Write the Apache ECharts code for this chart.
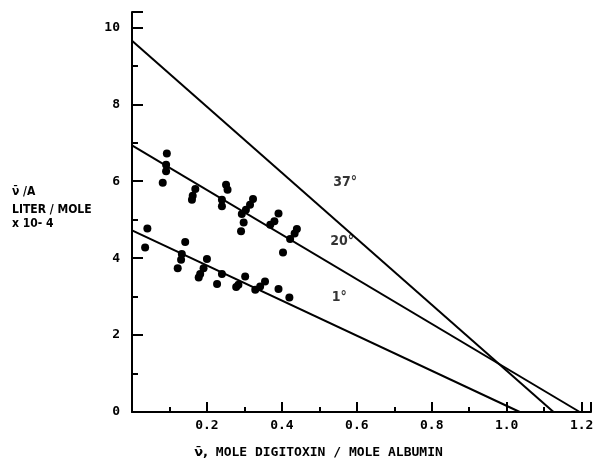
<!DOCTYPE html>
<html>
<head>
<meta charset="utf-8">
<script src="https://cdn.jsdelivr.net/npm/echarts@6/dist/echarts.min.js"></script>
<style>
html,body{margin:0;padding:0;background:#fff;}
#c{width:596px;height:460px;}
</style>
</head>
<body>
<div id="c"></div>
<script>
// x tick labels / axis settings
var xTicks = [0, 0.2, 0.4, 0.6, 0.8, 1.0, 1.2];
var yTicks = [0, 2, 4, 6, 8, 10];

// Data points (nu, nu/A x 10^-4)
var pts20 = [
  [0.093, 6.72], [0.091, 6.43], [0.091, 6.26], [0.082, 5.96],
  [0.169, 5.80], [0.162, 5.62], [0.160, 5.52],
  [0.251, 5.91], [0.255, 5.78], [0.240, 5.52], [0.240, 5.35],
  [0.323, 5.54], [0.315, 5.39], [0.304, 5.26], [0.293, 5.15], [0.298, 4.93], [0.291, 4.70],
  [0.391, 5.16], [0.380, 4.96], [0.369, 4.87], [0.403, 4.15],
  [0.440, 4.76], [0.434, 4.64], [0.422, 4.50]
];
var pts1 = [
  [0.041, 4.77], [0.035, 4.28],
  [0.142, 4.42], [0.133, 4.11], [0.131, 3.96], [0.122, 3.74],
  [0.200, 3.98], [0.191, 3.74], [0.182, 3.59], [0.178, 3.50],
  [0.240, 3.59], [0.227, 3.33],
  [0.302, 3.52], [0.284, 3.31], [0.278, 3.25],
  [0.355, 3.39], [0.342, 3.26], [0.329, 3.18],
  [0.391, 3.20], [0.420, 2.98]
];
// Fitted lines: [x, y] endpoints
var line37 = [[0, 9.65], [1.125, 0]];
var line20 = [[0, 6.93], [1.195, 0]];
var line1 = [[0, 4.72], [1.035, 0]];
// Line labels
var lineLabels = [
  {value: [0.569, 5.96], text: '37°'},
  {value: [0.561, 4.43], text: '20°'},
  {value: [0.553, 2.99], text: '1°'}
];

var chart = echarts.init(document.getElementById('c'), null, {renderer: 'canvas'});
var mono = '"DejaVu Sans Mono", monospace';
var narrow = '"Liberation Sans Narrow", "DejaVu Sans Condensed", "Roboto Condensed", sans-serif';

function isMult(v, step) {
  var r = v / step;
  return Math.abs(r - Math.round(r)) < 1e-6;
}

var lineStyle = {color: '#000', width: 2};
function mkLine(d) {
  return {
    type: 'line', data: d, symbol: 'none', lineStyle: lineStyle,
    silent: true, animation: false, z: 2
  };
}

chart.setOption({
  animation: false,
  backgroundColor: '#fff',
  grid: {left: 132, top: 12, right: 5, bottom: 48, containLabel: false, outerBoundsMode: 'none'},
  xAxis: {
    type: 'value', min: 0, max: 1.225, interval: 0.2,
    axisLine: {show: true, onZero: false, lineStyle: {color: '#000', width: 2}},
    axisTick: {show: true, inside: true, length: 10, lineStyle: {color: '#000', width: 2}},
    minorTick: {show: true, splitNumber: 2, length: 5, lineStyle: {color: '#000', width: 2}},
    splitLine: {show: false},
    axisLabel: {
      color: '#000', fontFamily: mono, fontWeight: 'bold', fontSize: 13, margin: 7,
      showMaxLabel: false,
      formatter: function (v) { return (v === 0 || !isMult(v, 0.2)) ? '' : v.toFixed(1); }
    },
    name: '{n|ν̄,} MOLE DIGITOXIN / MOLE ALBUMIN',
    nameLocation: 'middle', nameGap: 34,
    nameTextStyle: {
      color: '#000', fontFamily: mono, fontWeight: 'bold', fontSize: 13, padding: [0, 0, 0, -86],
      rich: {n: {fontFamily: 'DejaVu Sans', fontWeight: 'bold', fontSize: 13, color: '#000'}}
    }
  },
  yAxis: {
    type: 'value', min: 0, max: 10.4, interval: 2,
    axisLine: {show: true, onZero: false, lineStyle: {color: '#000', width: 2}},
    axisTick: {show: true, inside: true, length: 11, lineStyle: {color: '#000', width: 2}},
    minorTick: {show: true, splitNumber: 2, length: 6, lineStyle: {color: '#000', width: 2}},
    splitLine: {show: false},
    axisLabel: {
      color: '#000', fontFamily: mono, fontWeight: 'bold', fontSize: 13, margin: 12,
      showMaxLabel: false,
      formatter: function (v) { return isMult(v, 2) ? String(Math.round(v)) : ''; }
    }
  },
  series: [
    mkLine(line37), mkLine(line20), mkLine(line1),
    {type: 'scatter', data: pts20, symbolSize: 8, itemStyle: {color: '#000', opacity: 1}, z: 3},
    {type: 'scatter', data: pts1, symbolSize: 8, itemStyle: {color: '#000', opacity: 1}, z: 3},
    {
      type: 'scatter', symbolSize: 0, z: 4,
      data: lineLabels.map(function (l) { return {value: l.value, name: l.text}; }),
      label: {
        show: true, position: 'inside', formatter: '{b}',
        color: '#000', fontFamily: narrow, fontWeight: 'bold', fontSize: 14
      }
    }
  ],
  graphic: [
    {
      type: 'text', left: 12, top: 186,
      style: {
        text: 'ν̄ /A', fill: '#000',
        font: 'bold 12px ' + narrow
      }
    },
    {
      type: 'text', left: 12, top: 203,
      style: {
        text: 'LITER / MOLE\nx 10- 4', fill: '#000', lineHeight: 14,
        font: 'bold 12px ' + narrow
      }
    }
  ]
});
</script>
</body>
</html>
